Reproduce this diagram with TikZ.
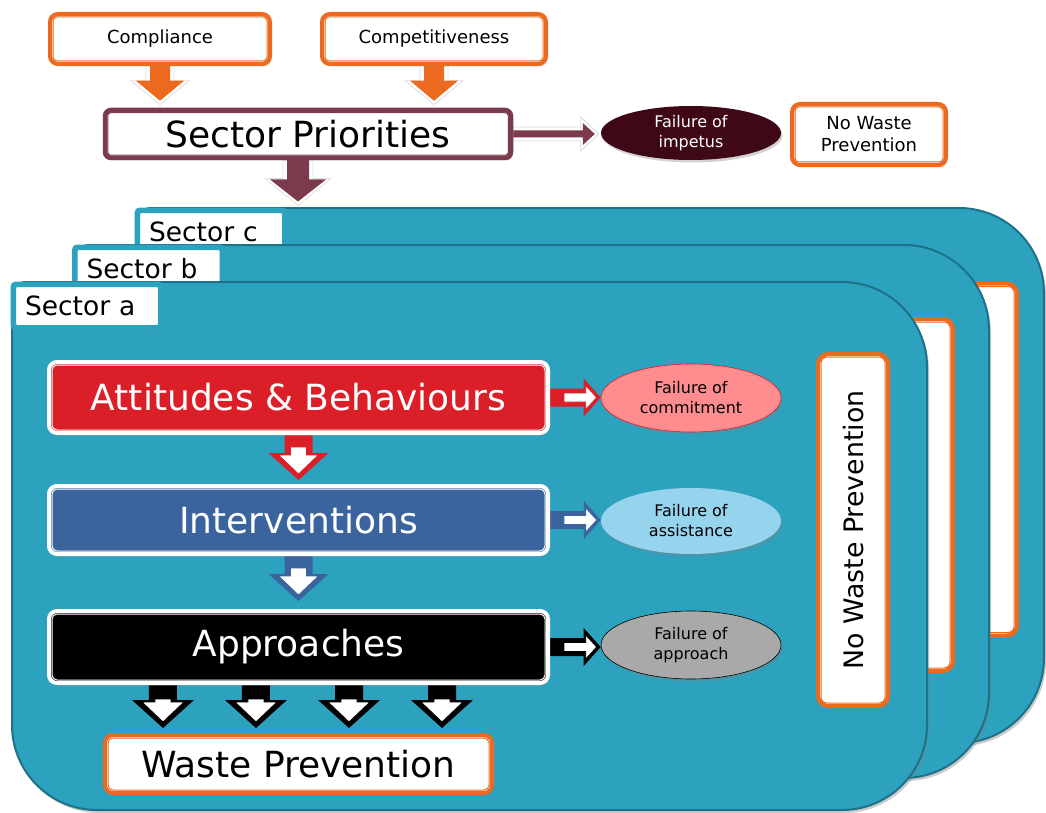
\documentclass[tikz,border=0pt]{standalone}
\usepackage{fontspec}
\setmainfont{DejaVu Sans}
\usetikzlibrary{calc,shapes.geometric,shadows}

\definecolor{wporange}{HTML}{EC6A1F}
\definecolor{prioline}{HTML}{7B3B4D}
\definecolor{impetus}{HTML}{3F0816}
\definecolor{panelfill}{HTML}{2CA2BF}
\definecolor{paneledge}{HTML}{1D7189}
\definecolor{attred}{HTML}{DA1F28}
\definecolor{intblue}{HTML}{3B649E}
\definecolor{pinkfail}{HTML}{FF8D90}
\definecolor{bluefail}{HTML}{96D4EE}
\definecolor{greyfail}{HTML}{A9A9A9}

\pgfdeclarelayer{panels}
\pgfdeclarelayer{links}
\pgfsetlayers{panels,links,main}

% downward block arrow:
% style, from, to, shaft half width, head half width, head length, tip inset, tail inset
\newcommand\downblock[8]{%
  \path[#1] let \p1=(#2), \p2=(#3) in
    (\x1-#4,\y1-#8) -- (\x1+#4,\y1-#8) -- (\x1+#4,\y2+#7+#6) -- (\x1+#5,\y2+#7+#6)
    -- (\x1,\y2+#7) -- (\x1-#5,\y2+#7+#6) -- (\x1-#4,\y2+#7+#6) -- cycle;}
% rightward block arrow, same arguments
\newcommand\rightblock[8]{%
  \path[#1] let \p1=(#2), \p2=(#3) in
    (\x1+#8,\y1+#4) -- (\x2-#7-#6,\y1+#4) -- (\x2-#7-#6,\y1+#5) -- (\x2-#7,\y1)
    -- (\x2-#7-#6,\y1-#5) -- (\x2-#7-#6,\y1-#4) -- (\x1+#8,\y1-#4) -- cycle;}
% thin second outline just inside a framed box
\newcommand\innerframe[4]{%
  \draw[#1,rounded corners=#4] ([shift={(#3,#3)}]#2.north west) rectangle ([shift={(-#3,-#3)}]#2.south east);}
% sector sheet: left, top, right, bottom (small radius top left, large elsewhere)
\newcommand\sectorpanel[4]{%
  \draw[sectorsheet] (#1+30,#2) [rounded corners=14pt] -- (#1+200,#2)
    [rounded corners=85pt] -- (#3,#2) -- (#3,#4) -- (#1,#4) -- (#1,#2+150)
    [rounded corners=14pt] -- (#1,#2) -- cycle;}

\tikzset{
  softshadow/.style={drop shadow={opacity=0.35,shadow xshift=1.5pt,shadow yshift=-2.5pt}},
  sectorsheet/.style={fill=panelfill, draw=paneledge, line width=2pt,
    drop shadow={opacity=0.4,shadow xshift=2pt,shadow yshift=-3pt}},
  obox/.style={rectangle, rounded corners=8pt, fill=white, draw=wporange, line width=4pt,
    inner sep=0pt, align=center, softshadow},
  pbox/.style={rectangle, rounded corners=6pt, fill=white, draw=prioline, line width=4.5pt,
    inner sep=0pt, softshadow},
  cbox/.style={rectangle, rounded corners=8pt, fill=#1, draw=white, line width=4pt,
    inner sep=0pt, text=white, minimum width=499pt, font=\fontsize{36}{40}\selectfont, softshadow},
  sectortab/.style={rectangle, rounded corners=3pt, fill=white, draw=panelfill, line width=5pt,
    inner sep=0pt, minimum width=148pt, minimum height=44pt, text width=124pt, align=left,
    font=\fontsize{26.5}{30}\selectfont, softshadow},
  failnode/.style={ellipse, minimum width=180pt, inner sep=0pt, align=center,
    font=\fontsize{16}{20}\selectfont, softshadow},
  nwpbox/.style={obox, rounded corners=10pt, minimum width=70pt, minimum height=352pt},
}

\begin{document}
\begin{tikzpicture}[x=1pt,y=-1pt]
\useasboundingbox (0,0) rectangle (1046,813);

% ---------- sector sheets, back to front ----------
\begin{pgfonlayer}{panels}
  \fill[white] (0,0) rectangle (1046,813);

  \sectorpanel{137}{208}{1044}{743}
  \node[nwpbox] (nwpc) at (982,459.5) {};
  \innerframe{draw=wporange,line width=1pt}{nwpc}{5}{6pt}
  \node[sectortab] (tabc) at (211,232) {Sector c};
  \innerframe{draw=panelfill,line width=1pt}{tabc}{5}{2pt}

  \sectorpanel{75}{245}{989}{778}
  \node[nwpbox] (nwpb) at (918,495) {};
  \innerframe{draw=wporange,line width=1pt}{nwpb}{5}{6pt}
  \node[sectortab] (tabb) at (148.5,269) {Sector b};
  \innerframe{draw=panelfill,line width=1pt}{tabb}{5}{2pt}

  \sectorpanel{12}{282}{927}{810}
  \node[sectortab] (taba) at (87,306) {Sector a};
  \innerframe{draw=panelfill,line width=1pt}{taba}{5}{2pt}
\end{pgfonlayer}

% ---------- drivers and sector priorities ----------
\node[obox, minimum width=220pt, minimum height=50pt, font=\fontsize{18}{22}\selectfont]
  (compl) at (160,39) {Compliance};
\node[obox, minimum width=224pt, minimum height=50pt, font=\fontsize{18}{22}\selectfont]
  (compet) at (434,39) {Competitiveness};
\node[pbox, minimum width=406pt, minimum height=48pt, font=\fontsize{36}{40}\selectfont]
  (prio) at (308,134) {Sector Priorities};
\node[failnode, minimum height=54pt, fill=impetus, text=white] (fimp) at (691,133) {Failure of\\impetus};
\node[obox, minimum width=154pt, minimum height=61pt, font=\fontsize{18}{22}\selectfont]
  (nwptop) at (869,134.5) {No Waste\\Prevention};

\innerframe{draw=wporange,line width=1pt}{compl}{5}{4pt}
\innerframe{draw=wporange,line width=1pt}{compet}{5}{4pt}
\innerframe{draw=wporange,line width=1pt}{nwptop}{5}{4pt}
\innerframe{draw=prioline,line width=1pt}{prio}{5}{3pt}

% ---------- chain inside sector a ----------
\node[cbox=attred, minimum height=71pt] (att) at (298.5,397.5) {Attitudes \& Behaviours};
\node[cbox=intblue, minimum height=68pt] (int) at (298.5,520) {Interventions};
\node[cbox=black, minimum height=72pt] (appr) at (298.5,647) {Approaches};
\node[obox, minimum width=387pt, minimum height=58pt, font=\fontsize{36}{40}\selectfont]
  (wp) at (298.5,764) {Waste Prevention};

\innerframe{draw=white,line width=1pt}{att}{5}{5pt}
\innerframe{draw=white,line width=1pt}{int}{5}{5pt}
\innerframe{draw=white,line width=1pt}{appr}{5}{5pt}
\innerframe{draw=wporange,line width=1pt}{wp}{5}{5pt}

\node[failnode, minimum height=68pt, fill=pinkfail, draw=attred, line width=0.6pt]
  (fcom) at (691,398) {Failure of\\commitment};
\node[failnode, minimum height=66pt, fill=bluefail] (fass) at (691,521) {Failure of\\assistance};
\node[failnode, minimum height=68pt, fill=greyfail, draw=black, line width=0.6pt]
  (fapp) at (691,645) {Failure of\\approach};

\node[nwpbox] (nwpa) at (853,530) {};
\innerframe{draw=wporange,line width=1pt}{nwpa}{5}{6pt}
\node[rotate=90, font=\fontsize{26.8}{30}\selectfont] (nwpalabel) at (nwpa.center) {No Waste Prevention};

% ---------- block arrows ----------
\begin{pgfonlayer}{links}
  \foreach \s in {compl,compet}{
    \downblock{fill=white,draw=black!12,line width=0.8pt}{\s.south}{prio.north}{14pt}{29pt}{24pt}{3pt}{0pt}
    \downblock{fill=wporange}{\s.south}{prio.north}{10pt}{24pt}{20pt}{7pt}{0pt}
  }
  \downblock{fill=white,draw=black!12,line width=0.8pt}{$(prio.south)+(-10,0)$}{tabc.north}{15pt}{33pt}{27pt}{2pt}{0pt}
  \downblock{fill=prioline}{$(prio.south)+(-10,0)$}{tabc.north}{11pt}{28pt}{22pt}{6pt}{0pt}

  \rightblock{fill=white,draw=black!15,line width=0.8pt}{prio.east}{fimp.west}{7pt}{17pt}{18pt}{2pt}{0pt}
  \rightblock{fill=prioline}{prio.east}{fimp.west}{3.5pt}{11pt}{12pt}{6pt}{0pt}

  \downblock{fill=attred}{att.south}{int.north}{14pt}{30pt}{27pt}{4pt}{0pt}
  \downblock{fill=white,draw=attred,line width=0.8pt}{att.south}{int.north}{8pt}{20pt}{19pt}{10pt}{12pt}
  \downblock{fill=intblue}{int.south}{appr.north}{14pt}{30pt}{27pt}{8pt}{0pt}
  \downblock{fill=white,draw=intblue,line width=0.8pt}{int.south}{appr.north}{8pt}{20pt}{19pt}{14pt}{12pt}

  \foreach \f in {0.2306,0.4155,0.6004,0.7853}{
    \downblock{fill=black}{$(appr.south west)!\f!(appr.south east)$}{wp.north}{14pt}{31pt}{28pt}{5pt}{0pt}
    \downblock{fill=white,draw=black,line width=0.8pt}{$(appr.south west)!\f!(appr.south east)$}{wp.north}{8pt}{21pt}{20pt}{11pt}{14pt}
  }

  \rightblock{fill=attred}{att.east}{fcom.west}{9pt}{19pt}{17pt}{0pt}{0pt}
  \rightblock{fill=white,draw=attred,line width=0.8pt}{att.east}{fcom.west}{4.5pt}{12pt}{11pt}{4pt}{14pt}
  \rightblock{fill=intblue}{int.east}{fass.west}{9pt}{19pt}{17pt}{0pt}{0pt}
  \rightblock{fill=white,draw=intblue,line width=0.8pt}{int.east}{fass.west}{4.5pt}{12pt}{11pt}{4pt}{14pt}
  \rightblock{fill=black}{appr.east}{fapp.west}{9pt}{19pt}{17pt}{0pt}{0pt}
  \rightblock{fill=white,draw=black,line width=0.8pt}{appr.east}{fapp.west}{4.5pt}{12pt}{11pt}{4pt}{14pt}
\end{pgfonlayer}
\end{tikzpicture}
\end{document}
